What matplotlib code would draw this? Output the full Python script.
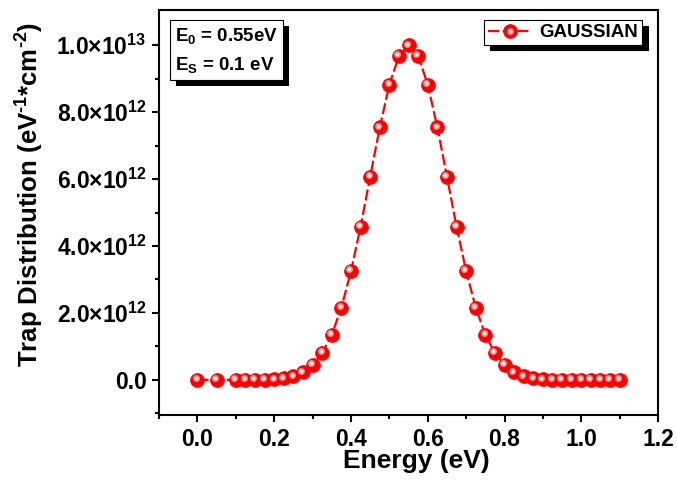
import numpy as np
import matplotlib
matplotlib.use('Agg')
import matplotlib.pyplot as plt
from matplotlib.legend_handler import HandlerTuple
from matplotlib.patches import Rectangle
from matplotlib.transforms import offset_copy, IdentityTransform

plt.rcParams['font.family'] = 'Liberation Sans'
plt.rcParams['font.weight'] = 'bold'
plt.rcParams['mathtext.fontset'] = 'custom'
plt.rcParams['mathtext.rm'] = 'Liberation Sans:bold'
plt.rcParams['mathtext.it'] = 'Liberation Sans:bold'
plt.rcParams['mathtext.bf'] = 'Liberation Sans:bold'

# trap energy (eV)
energy = [0.0, 0.05, 0.1, 0.125, 0.15, 0.175, 0.2, 0.225, 0.25, 0.275, 0.3,
          0.325, 0.35, 0.375, 0.4, 0.425, 0.45, 0.475, 0.5, 0.525, 0.55,
          0.575, 0.6, 0.625, 0.65, 0.675, 0.7, 0.725, 0.75, 0.775, 0.8,
          0.825, 0.85, 0.875, 0.9, 0.925, 0.95, 0.975, 1.0, 1.025, 1.05,
          1.075, 1.1]
# trap density, units of 1e12 eV^-1 cm^-2
density_e12 = [0.0, 0.0, 0.0, 0.0, 0.0, 0.01, 0.02, 0.05, 0.11, 0.23, 0.44,
               0.80, 1.35, 2.16, 3.25, 4.58, 6.07, 7.55, 8.82, 9.69, 10.0,
               9.69, 8.82, 7.55, 6.07, 4.58, 3.25, 2.16, 1.35, 0.80, 0.44,
               0.23, 0.11, 0.05, 0.02, 0.01, 0.0, 0.0, 0.0, 0.0, 0.0,
               0.0, 0.0]
ytick_vals = [0.0, 2e12, 4e12, 6e12, 8e12, 1e13]
ytick_labels = ['0.0', r'2.0$\times$10$^{12}$', r'4.0$\times$10$^{12}$',
                r'6.0$\times$10$^{12}$', r'8.0$\times$10$^{12}$',
                r'1.0$\times$10$^{13}$']
xtick_vals = [0.0, 0.2, 0.4, 0.6, 0.8, 1.0, 1.2]
xtick_labels = ['0.0', '0.2', '0.4', '0.6', '0.8', '1.0', '1.2']

x = np.array(energy)
y = np.array(density_e12) * 1e12

fig = plt.figure(figsize=(6.77, 4.82), dpi=100)
ax = fig.add_axes([0.235, 0.139, 0.737, 0.840])

red = '#ff0000'
line, = ax.plot(x, y, color=red, lw=1.6, ls=(0, (5, 1.6)), marker='o',
                ms=10, mfc=red, mec=red, mew=0.5, zorder=3)
# fake sphere shading: soft highlight up-left of each marker centre
hl_tr = offset_copy(ax.transData, fig=fig, x=-1.2, y=1.2, units='points')
hl1, = ax.plot(x, y, ls='none', marker='o', ms=5, mfc='#f7a3a3',
               mec='none', alpha=0.9, transform=hl_tr, zorder=4)
hl2, = ax.plot(x, y, ls='none', marker='o', ms=2.4, mfc='white',
               mec='none', transform=hl_tr, zorder=5)

ax.set_xlim(-0.1, 1.2)
ax.set_ylim(-1.05e12, 1.105e13)
ax.set_xticks(xtick_vals)
ax.set_xticklabels(xtick_labels)
ax.set_xticks(np.arange(-0.1, 1.21, 0.2), minor=True)
ax.set_yticks(ytick_vals)
ax.set_yticklabels(ytick_labels)
ax.set_yticks(np.arange(-1e12, 1.1e13, 2e12), minor=True)

for s in ax.spines.values():
    s.set_linewidth(1.5)
ax.tick_params(axis='both', which='major', direction='out', length=5,
               width=1.5, labelsize=16.5, top=False, right=False, pad=4)
ax.tick_params(axis='both', which='minor', direction='out', length=3,
               width=1.5, top=False, right=False)

ax.set_xlabel('Energy (eV)', fontsize=19, fontweight='bold')
ax.xaxis.set_label_coords(0.515, -0.085)
ax.set_ylabel('Trap Distribution (eV$^{\u20101}$*cm$^{\u20102}$)',
              fontsize=18.5, fontweight='bold')
ax.yaxis.set_label_coords(-0.226, 0.545)

# parameter box; its hard black drop shadow is added after layout
params = 'E$_0$ = 0.55eV\nE$_S$ = 0.1 eV'
ptxt = ax.text(0.032, 0.962, params, transform=ax.transAxes, fontsize=13.5,
               va='top', ha='left', color='black', linespacing=1.6,
               zorder=6,
               bbox=dict(boxstyle='square,pad=0.28', fc='white', ec='black',
                         lw=0.8))

leg = ax.legend([(line, hl1, hl2)], ['GAUSSIAN'],
                handler_map={tuple: HandlerTuple(ndivide=1)},
                loc='upper right', fontsize=13.5, frameon=True,
                fancybox=False, edgecolor='black', framealpha=1,
                handlelength=2.35, borderpad=0.2, handletextpad=0.4,
                borderaxespad=0, bbox_to_anchor=(0.968, 0.975),
                shadow={'color': 'black', 'alpha': 1, 'ox': 4, 'oy': -4})
leg.get_frame().set_linewidth(0.8)

fig.canvas.draw()
bb = ptxt.get_bbox_patch().get_window_extent()
ax.add_patch(Rectangle((bb.x0 + 6, bb.y0 - 6), bb.width, bb.height,
                       transform=IdentityTransform(), fc='black',
                       ec='none', zorder=5.5, clip_on=False))

fig.savefig('out.png', dpi=100)
